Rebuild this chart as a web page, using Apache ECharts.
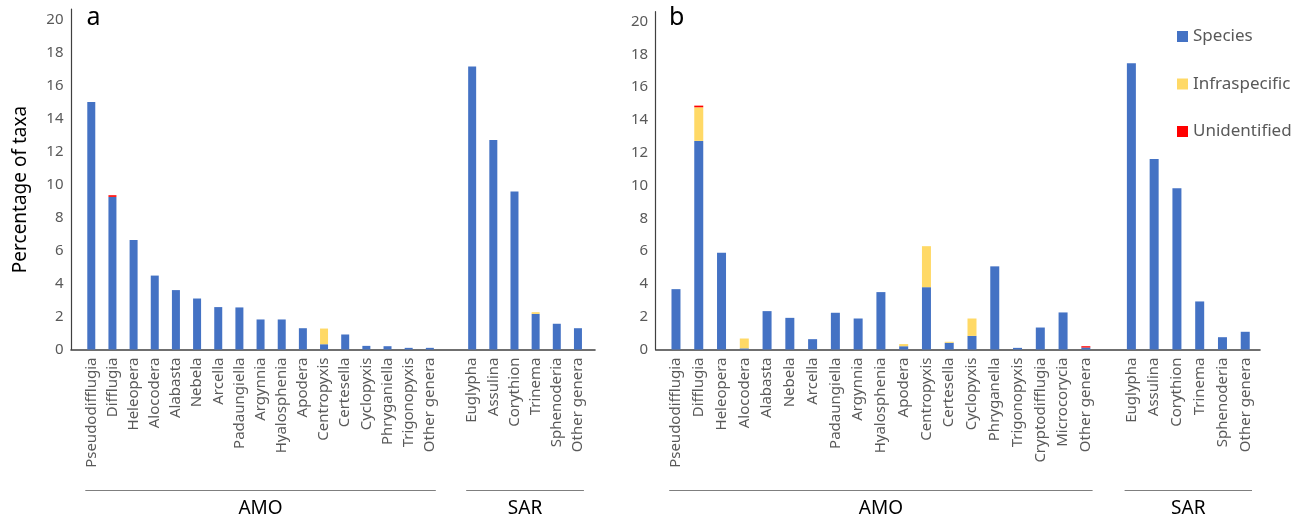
<!DOCTYPE html>
<html><head><meta charset="utf-8">
<script src="https://cdn.jsdelivr.net/npm/echarts@6/dist/echarts.min.js"></script>
<style>html,body{margin:0;padding:0;background:#fff}#c{width:1304px;height:522px}</style>
</head><body><div id="c"></div>
<script>
// ---------- data ----------
const categoriesA = ['Pseudodifflugia','Difflugia','Heleopera','Alocodera','Alabasta','Nebela','Arcella','Padaungiella','Argynnia','Hyalosphenia','Apodera','Centropyxis','Certesella','Cyclopyxis','Phryganiella','Trigonopyxis','Other genera','','Euglypha','Assulina','Corythion','Trinema','Sphenoderia','Other genera'];
const speciesA      = [15.0, 9.25, 6.63, 4.48, 3.6, 3.09, 2.57, 2.55, 1.82, 1.82, 1.29, 0.32, 0.91, 0.22, 0.2, 0.1, 0.1, '-', 17.15, 12.69, 9.58, 2.16, 1.56, 1.29];
const infraA        = [0, 0, 0, 0, 0, 0, 0, 0, 0, 0, 0, 0.95, 0, 0, 0, 0, 0, '-', 0, 0, 0, 0.1, 0, 0];
const unidentifiedA = [0, 0.1, 0, 0, 0, 0, 0, 0, 0, 0, 0, 0, 0, 0, 0, 0, 0, '-', 0, 0, 0, 0, 0, 0];

const categoriesB = ['Pseudodifflugia','Difflugia','Heleopera','Alocodera','Alabasta','Nebela','Arcella','Padaungiella','Argynnia','Hyalosphenia','Apodera','Centropyxis','Certesella','Cyclopyxis','Phryganella','Trigonopyxis','Cryptodifflugia','Microcorycia','Other genera','','Euglypha','Assulina','Corythion','Trinema','Sphenoderia','Other genera'];
const speciesB      = [3.68, 12.72, 5.9, 0.07, 2.34, 1.93, 0.63, 2.24, 1.89, 3.5, 0.2, 3.8, 0.41, 0.83, 5.07, 0.1, 1.34, 2.26, 0.12, '-', 17.46, 11.62, 9.83, 2.93, 0.75, 1.08];
const infraB        = [0, 2.05, 0, 0.6, 0, 0, 0, 0, 0, 0, 0.13, 2.5, 0.06, 1.06, 0, 0, 0, 0, 0, '-', 0, 0, 0, 0, 0, 0];
const unidentifiedB = [0, 0.1, 0, 0, 0, 0, 0, 0, 0, 0, 0, 0, 0, 0, 0, 0, 0, 0, 0.08, '-', 0, 0, 0, 0, 0, 0];

const seriesNames = ['Species', 'Infraspecific', 'Unidentified'];
const groupNames = ['AMO', 'SAR'];
const groupRangesA = [[0, 16], [18, 23]];
const groupRangesB = [[0, 18], [20, 25]];
const yTickStep = 2, yMax = 20;

// ---------- style / layout ----------
const FONT = 'Noto Sans';
const COLORS = ['#4472C4', '#FFD966', '#FF0000'];
const layoutA = {axisX: 71, plotLeft: 80.7, band: 21.16, top20: 19.5, zeroY: 349.5, axisTop: 9, axisRight: 595, barWidth: 8, groupY: 490, title: 'a', titleLeft: 86.5};
const layoutB = {axisX: 655.7, plotLeft: 664.6, band: 22.77, top20: 21.5, zeroY: 349.5, axisTop: 11.7, axisRight: 1260, barWidth: 9, groupY: 490, title: 'b', titleLeft: 669};

const grids = [], xAxes = [], yAxes = [], series = [], titles = [];

function addPanel(L, cats, values, ranges, stack, yName) {
  const gi = grids.length;
  const n = cats.length;
  grids.push({left: L.plotLeft, top: L.top20, width: n * L.band, height: L.zeroY - L.top20});
  xAxes.push({gridIndex: gi, type: 'category', data: cats,
    axisLine: {show: false}, axisTick: {show: false},
    axisLabel: {rotate: 90, interval: 0, margin: 8, color: '#595959', fontSize: 15, fontFamily: FONT}});
  const y = {gridIndex: gi, type: 'value', min: 0, max: yMax, interval: yTickStep,
    axisLine: {show: false}, axisTick: {show: false}, splitLine: {show: false},
    axisLabel: {margin: L.plotLeft - L.axisX + 7.5, color: '#595959', fontSize: 15, fontFamily: FONT}};
  if (yName) {
    Object.assign(y, {name: yName, nameLocation: 'middle', nameGap: 51,
      nameTextStyle: {fontSize: 19, color: '#000', fontFamily: FONT, padding: [0, 10, 0, 0]}});
  }
  yAxes.push(y);
  values.forEach((vals, k) => {
    series.push({type: 'bar', name: seriesNames[k], stack: stack, xAxisIndex: gi, yAxisIndex: gi,
      data: vals, barWidth: L.barWidth, itemStyle: {color: COLORS[k]}, emphasis: {disabled: true}});
  });
  // axis frame (longer than the bar band, as in the original)
  const oi = grids.length;
  grids.push({left: L.axisX, top: L.axisTop, width: L.axisRight - L.axisX, height: L.zeroY - L.axisTop});
  xAxes.push({gridIndex: oi, type: 'value', min: 0, max: 1,
    axisLine: {show: true, onZero: false, lineStyle: {color: '#404040', width: 1.6}},
    axisTick: {show: false}, axisLabel: {show: false}, splitLine: {show: false}});
  yAxes.push({gridIndex: oi, type: 'value', min: 0, max: 1,
    axisLine: {show: true, onZero: false, lineStyle: {color: '#404040', width: 1.2}},
    axisTick: {show: false}, axisLabel: {show: false}, splitLine: {show: false}});
  // group brackets
  ranges.forEach((r, k) => {
    const g = grids.length;
    grids.push({left: L.plotLeft + r[0] * L.band + 5, width: (r[1] - r[0] + 1) * L.band - 10,
      top: L.groupY - 1, height: 1});
    xAxes.push({gridIndex: g, type: 'category', data: [groupNames[k]],
      axisLine: {show: true, lineStyle: {color: '#7f7f7f', width: 1}}, axisTick: {show: false},
      axisLabel: {margin: 9, color: '#000', fontSize: 19, fontFamily: FONT}});
    yAxes.push({gridIndex: g, type: 'value', show: false});
  });
  titles.push({text: L.title, left: L.titleLeft, top: 5, padding: 0,
    textStyle: {fontSize: 25, fontWeight: 'normal', color: '#000', fontFamily: FONT}});
}

addPanel(layoutA, categoriesA, [speciesA, infraA, unidentifiedA], groupRangesA, 'a', 'Percentage of taxa');
addPanel(layoutB, categoriesB, [speciesB, infraB, unidentifiedB], groupRangesB, 'b', null);

const chart = echarts.init(document.getElementById('c'), null, {renderer: 'canvas'});
chart.setOption({
  animation: false,
  backgroundColor: '#fff',
  title: titles,
  legend: {data: seriesNames, orient: 'vertical', left: 1177, top: 28, padding: 0,
    itemWidth: 11, itemHeight: 11, itemGap: 30.5, icon: 'rect',
    textStyle: {fontSize: 17, color: '#595959', fontFamily: FONT}},
  grid: grids, xAxis: xAxes, yAxis: yAxes, series: series
});
</script></body></html>
